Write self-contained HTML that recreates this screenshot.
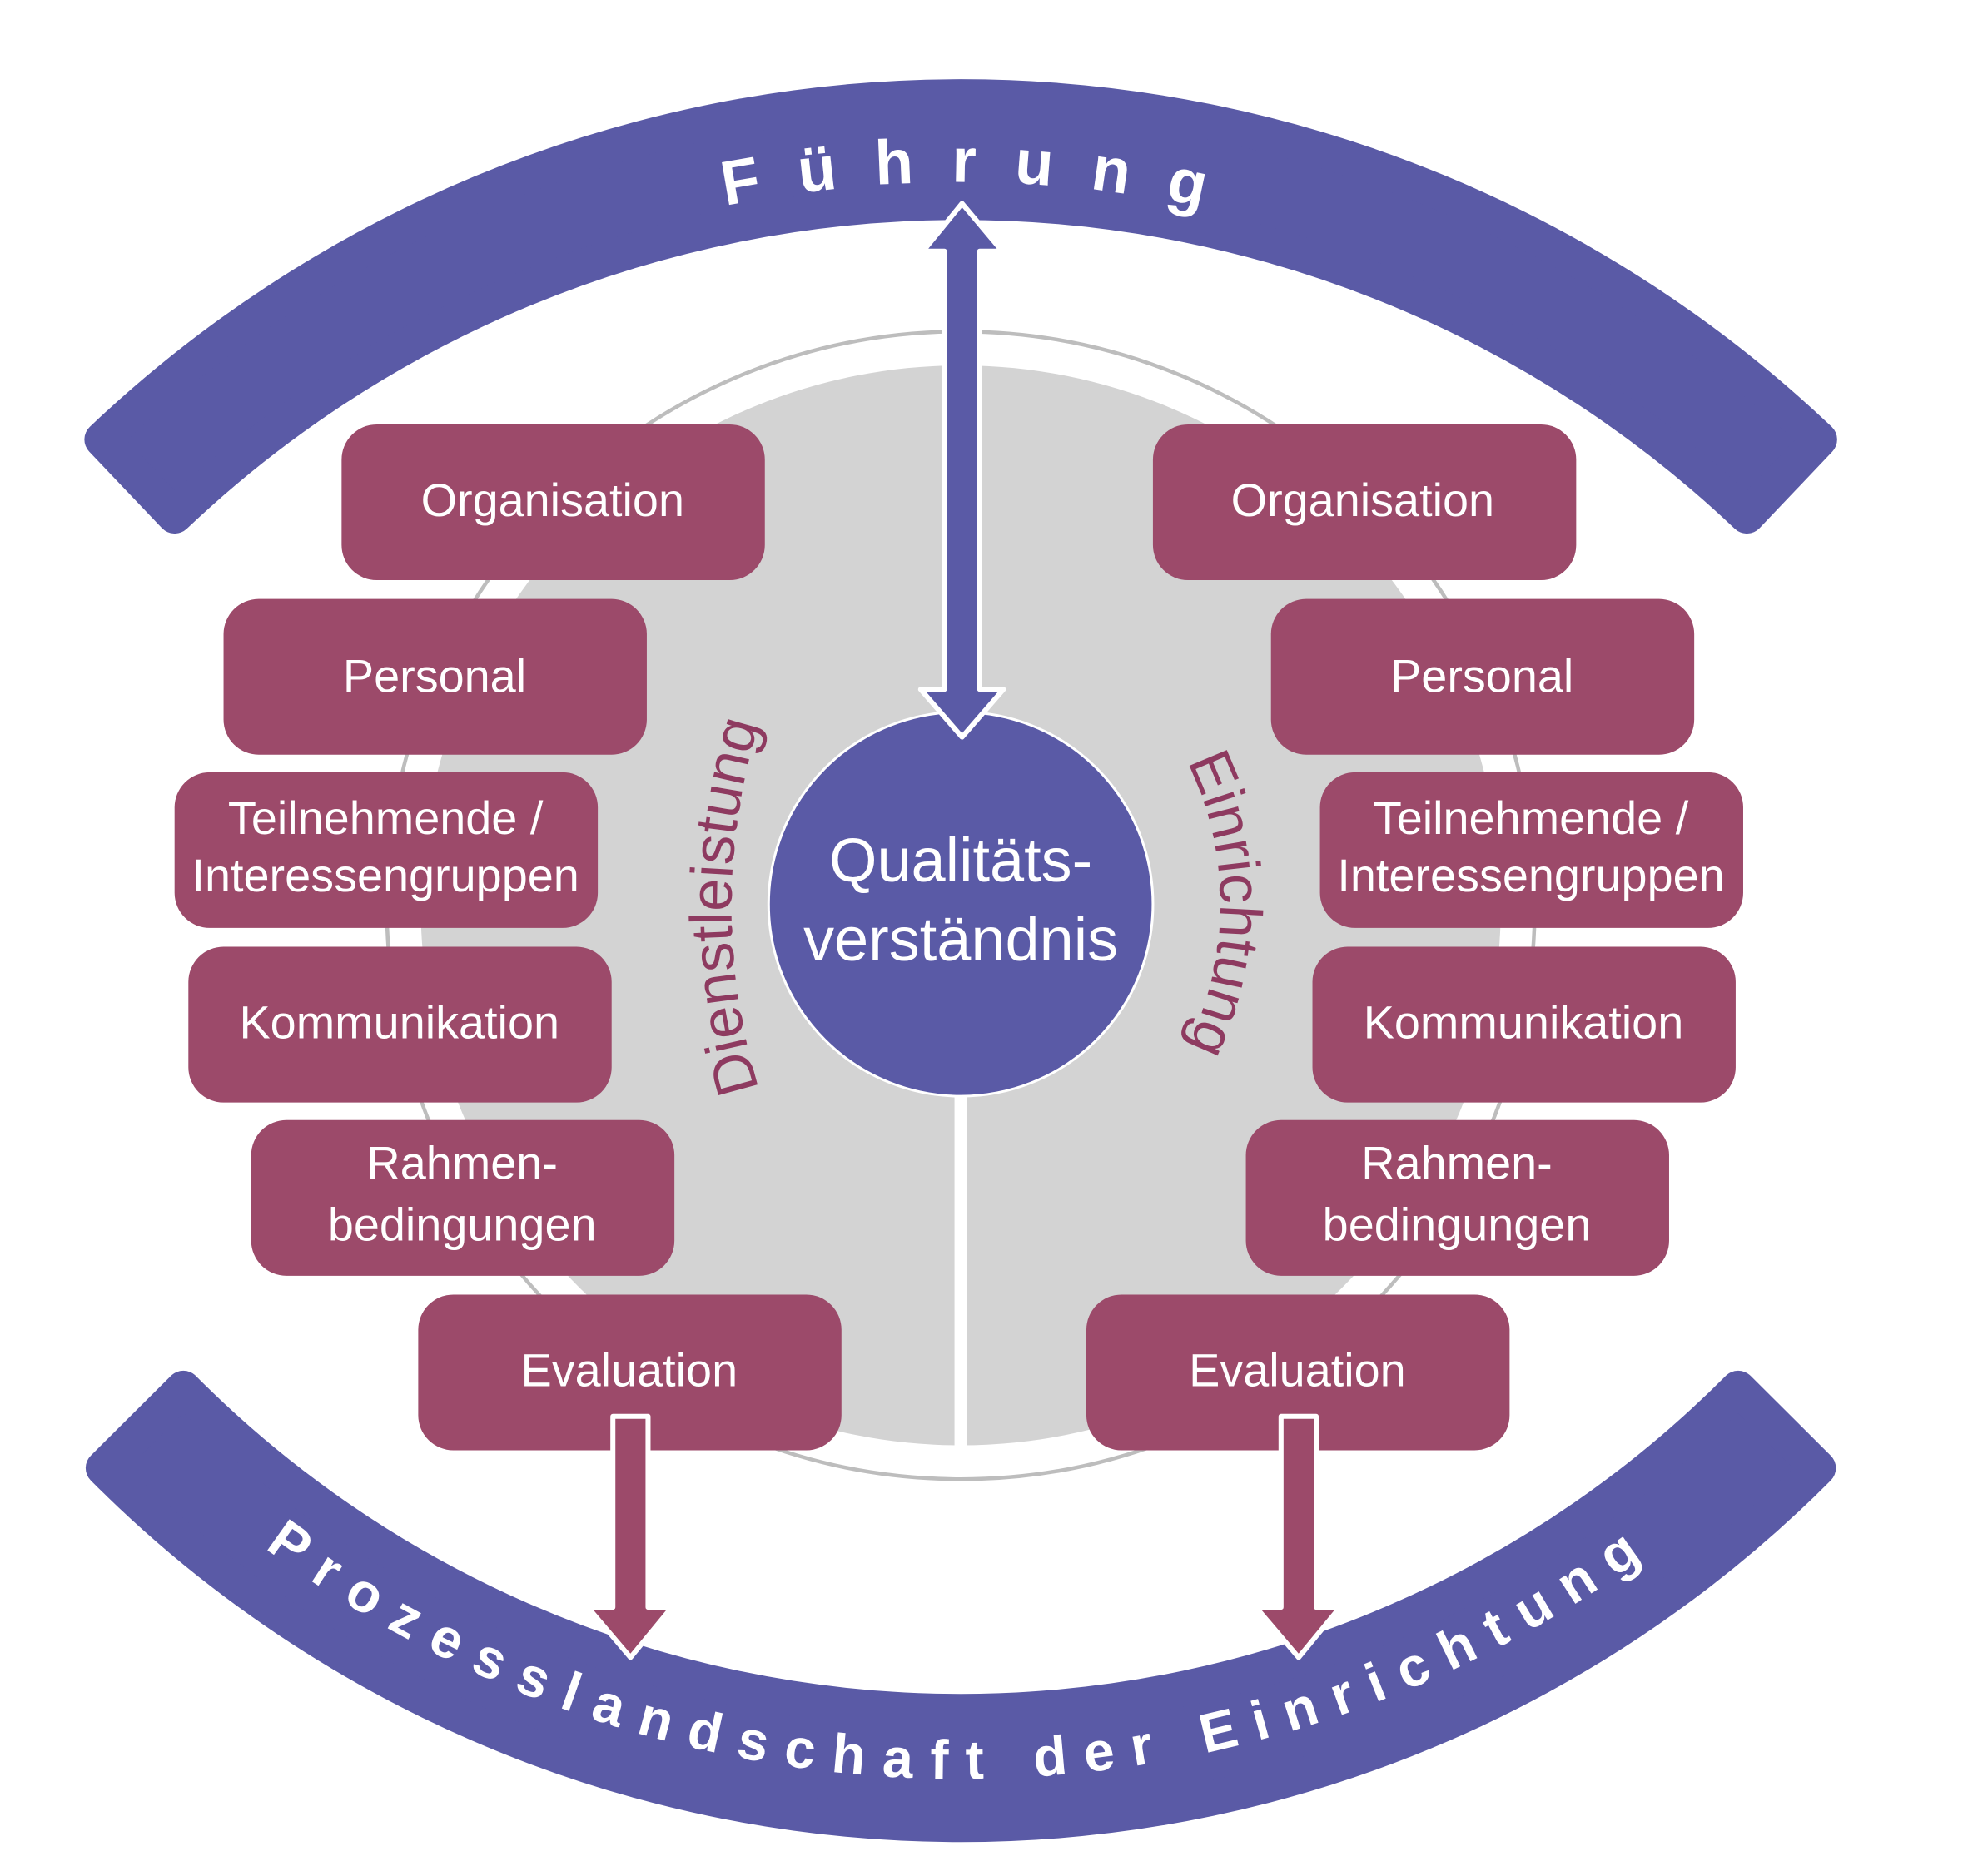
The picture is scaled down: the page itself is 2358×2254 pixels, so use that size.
<!DOCTYPE html>
<html><head><meta charset="utf-8"><style>
html,body{margin:0;padding:0;background:#fff;}
svg{display:block;}
text{font-family:"Liberation Sans","DejaVu Sans",sans-serif;}
</style></head><body>
<svg width="2358" height="2254" viewBox="0 0 1563 1494" xmlns="http://www.w3.org/2000/svg">
<defs>
<path id="topPath" d="M -160 1070 A 925 925 0 0 1 1690 1070"/>
<path id="botPath" d="M -162 490 A 927 927 0 0 0 1692 490"/>
<path id="leftPath" d="M 622 915 A 490 490 0 0 1 622 529"/>
<path id="rightPath" d="M 930 580 A 256 256 0 0 1 930 860"/>
</defs>
<!-- top arc -->
<path d="M 81.2 350 A 993 993 0 0 1 1448.8 350 L 1390.9 410.9 A 909 909 0 0 0 139.1 410.9 Z" fill="#5a5aa6" stroke="#5a5aa6" stroke-width="28" stroke-linejoin="round"/>
<!-- bottom arc -->
<path d="M 82.2 1169.1 A 963 963 0 0 0 1447.8 1169.1 L 1384 1105.6 A 873 873 0 0 1 146 1105.6 Z" fill="#5a5aa6" stroke="#5a5aa6" stroke-width="28" stroke-linejoin="round"/>
<!-- rings -->
<circle cx="765" cy="721" r="457" fill="none" stroke="#bdbdbd" stroke-width="3"/>
<circle cx="765" cy="721" r="430" fill="#d3d3d3"/>
<rect x="760" y="860" width="10" height="295" fill="#fff"/>
<!-- center circle -->
<circle cx="765" cy="720" r="153" fill="#5a5aa6" stroke="#fff" stroke-width="2"/>
<text x="765" y="702" font-size="49" fill="#fff" text-anchor="middle">Qualitäts-</text>
<text x="765" y="765" font-size="49" fill="#fff" text-anchor="middle">verständnis</text>
<!-- double arrow -->
<path d="M752 200 L735 200 L766 162 L798 200 L780 200 L780 549 L799 549 L766 587 L733 549 L752 549 Z" fill="#5a5aa6" stroke="#fff" stroke-width="4" stroke-linejoin="round"/>
<!-- boxes -->
<g fill="#9c4a6a">
<rect x="272" y="338" width="337" height="124" rx="28"/>
<rect x="178" y="477" width="337" height="124" rx="28"/>
<rect x="139" y="615" width="337" height="124" rx="28"/>
<rect x="150" y="754" width="337" height="124" rx="28"/>
<rect x="200" y="892" width="337" height="124" rx="28"/>
<rect x="333" y="1031" width="337" height="124" rx="28"/>
<rect x="918" y="338" width="337" height="124" rx="28"/>
<rect x="1012" y="477" width="337" height="124" rx="28"/>
<rect x="1051" y="615" width="337" height="124" rx="28"/>
<rect x="1045" y="754" width="337" height="124" rx="28"/>
<rect x="992" y="892" width="337" height="124" rx="28"/>
<rect x="865" y="1031" width="337" height="124" rx="28"/>
</g>
<g font-size="37" fill="#fff" text-anchor="middle">
<text x="440" y="411">Organisation</text>
<text x="346" y="551">Personal</text>
<text x="307" y="664">Teilnehmende /</text>
<text x="307" y="710">Interessengruppen</text>
<text x="318" y="827">Kommunikation</text>
<text x="368" y="939">Rahmen-</text>
<text x="368" y="988">bedingungen</text>
<text x="501" y="1104">Evaluation</text>
<text x="1085" y="411">Organisation</text>
<text x="1180" y="551">Personal</text>
<text x="1219" y="664">Teilnehmende /</text>
<text x="1219" y="710">Interessengruppen</text>
<text x="1213" y="827">Kommunikation</text>
<text x="1160" y="939">Rahmen-</text>
<text x="1160" y="988">bedingungen</text>
<text x="1033" y="1104">Evaluation</text>
</g>
<!-- down arrows -->
<path d="M488 1128 L516 1128 L516 1280 L535 1280 L502 1320 L468 1280 L488 1280 Z" fill="#9c4a6a" stroke="#fff" stroke-width="4" stroke-linejoin="round"/>
<path d="M1020 1128 L1048 1128 L1048 1280 L1067 1280 L1034 1320 L1000 1280 L1020 1280 Z" fill="#9c4a6a" stroke="#fff" stroke-width="4" stroke-linejoin="round"/>
<!-- curved texts -->
<text font-size="50" font-weight="bold" fill="#fff" letter-spacing="30"><textPath href="#topPath" startOffset="50.6%" text-anchor="middle">Führung</textPath></text>
<text font-size="44" font-weight="bold" fill="#fff" letter-spacing="14"><textPath href="#botPath" startOffset="50%" text-anchor="middle">Prozesslandschaft der Einrichtung</textPath></text>
<text font-size="47" fill="#8e3a60"><textPath href="#leftPath" startOffset="50%" text-anchor="middle">Dienstleistung</textPath></text>
<text font-size="47" fill="#8e3a60"><textPath href="#rightPath" startOffset="50%" text-anchor="middle">Einrichtung</textPath></text>
</svg>
</body></html>
